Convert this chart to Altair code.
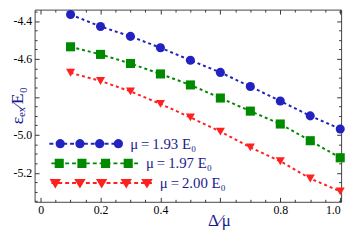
import math
import altair as alt
import pandas as pd

# ---------------- data ----------------
x_vals = [0.1, 0.2, 0.3, 0.4, 0.5, 0.6, 0.7, 0.8, 0.9, 1.0]
mu_193 = [-4.366, -4.429, -4.481, -4.541, -4.607, -4.671, -4.745, -4.822, -4.900, -4.969]
mu_197 = [-4.536, -4.576, -4.624, -4.679, -4.737, -4.806, -4.875, -4.943, -5.031, -5.121]
mu_200 = [-4.673, -4.716, -4.771, -4.837, -4.908, -4.983, -5.066, -5.139, -5.230, -5.298]

series_names = ["μ\u2009=\u20091.93 E₀", "μ\u2009=\u20091.97 E₀", "μ\u2009=\u20092.00 E₀"]
series_colors = ["#2222c0", "#008a00", "#ff2020"]
marker_shapes = ["circle", "square", "triangle-down"]
marker_sizes = [85, 85, 115]

x_major = [0, 0.2, 0.4, 0.6, 0.8, 1.0]
x_minor = [round(0.05 * i, 2) for i in range(21)]
y_major = [-5.2, -5.0, -4.8, -4.6, -4.4]
y_minor = [round(-5.35 + 0.05 * i, 2) for i in range(21)]

x_domain = [-0.02, 1.003]
y_domain = [-5.353, -4.340]

W, H = 311, 195
NAVY = "#1a1a8c"

rows = []
for name, vals in zip(series_names, [mu_193, mu_197, mu_200]):
    for xv, yv in zip(x_vals, vals):
        rows.append({"series": name, "x": xv, "y": yv})
df = pd.DataFrame(rows)

# ---------------- legend glyphs (dashed line + markers as one symbol path) ----------------
SYM_SIZE = 100                 # legend symbol size -> 5 px per path unit
UNIT = math.sqrt(SYM_SIZE) / 2
CENTER = 3.5                   # glyph origin shift inside the legend entry


def u(px):
    return (px - CENTER) / UNIT


def v(py):
    return py / UNIT


def rect(x0, y0, x1, y1):
    return (f"M{u(x0):.3f},{v(y0):.3f}L{u(x1):.3f},{v(y0):.3f}"
            f"L{u(x1):.3f},{v(y1):.3f}L{u(x0):.3f},{v(y1):.3f}Z")


def circle(cx, r, n=20):
    pts = [(cx + r * math.cos(2 * math.pi * i / n), r * math.sin(2 * math.pi * i / n))
           for i in range(n)]
    s = f"M{u(pts[0][0]):.3f},{v(pts[0][1]):.3f}"
    for p in pts[1:]:
        s += f"L{u(p[0]):.3f},{v(p[1]):.3f}"
    return s + "Z"


def tri_down(cx, a, b, c):
    return (f"M{u(cx - a):.3f},{v(-b):.3f}L{u(cx + a):.3f},{v(-b):.3f}"
            f"L{u(cx):.3f},{v(c):.3f}Z")


def glyph(kind, start, end, centers):
    parts = []
    p = start
    while p < end:
        q = min(p + 4.0, end)
        parts.append(rect(p, -1.0, q, 1.0))
        p += 7.0
    for cx in centers:
        if kind == "circle":
            parts.append(circle(cx, 4.7))
        elif kind == "square":
            parts.append(rect(cx - 4.6, -4.6, cx + 4.6, 4.6))
        else:
            parts.append(tri_down(cx, 5.8, 4.2, 5.4))
    return "".join(parts)


# glyph geometry, px from the legend's left edge
legend_paths = [
    glyph("circle", 0, 72, [11, 31, 51, 70]),
    glyph("square", 2, 91, [10, 33, 57, 80]),
    glyph("tri", 2, 106, [6, 31, 53, 78, 99]),
]
legend_label_offsets = [71, 87, 101]
legend_x = 11
legend_y = [128.5, 148.5, 168.5]

major_test = "abs(datum.value*5 - round(datum.value*5)) < 0.01"
tick_size = {"condition": {"test": major_test, "value": 4.5}, "value": 2.5}

xs = alt.Scale(domain=x_domain, nice=False, zero=False)
ys = alt.Scale(domain=y_domain, nice=False, zero=False)

x_label_expr = ("datum.value == 0 ? '0' : (abs(datum.value - 0.6) < 0.001 ? '' : "
                "format(datum.value, '.1f'))")
y_label_expr = ("abs(datum.value + 4.8) < 0.001 ? '' : "
                "replace(format(datum.value, '.1f'), '\u2212', '-')")

color_all = alt.Scale(domain=series_names, range=series_colors)

base = alt.Chart(df)

lines = base.mark_line(strokeDash=[3, 3], strokeWidth=2).encode(
    x=alt.X("x:Q", scale=xs, axis=alt.Axis(
        orient="bottom", offset=0, values=x_major, ticks=False, domain=False, grid=False,
        labelExpr=x_label_expr, labelPadding=3, title="Δ⁄μ", titleFontSize=17,
        titleX=187, titleY=19, titleAlign="center", titleBaseline="middle")),
    y=alt.Y("y:Q", scale=ys, axis=alt.Axis(
        orient="left", offset=0, values=y_major, ticks=False, domain=False, grid=False,
        labelExpr=y_label_expr, labelPadding=3, title="εₑₓ⁄E₀", titleFontSize=18,
        titleX=-17, titleY=97, titleAngle=-90, titleAlign="center",
        titleBaseline="middle")),
    color=alt.Color("series:N", scale=color_all, legend=None),
    detail="series:N",
)

points = base.mark_point(filled=True, opacity=1).encode(
    x=alt.X("x:Q", scale=xs, axis=alt.Axis(
        orient="top", offset=-H, values=x_minor, labels=False, domain=False, grid=False,
        title=None, tickSize=tick_size)),
    y=alt.Y("y:Q", scale=ys, axis=alt.Axis(
        orient="right", offset=-W, values=y_minor, labels=False, domain=False, grid=False,
        title=None, tickSize=tick_size)),
    color=alt.Color("series:N", scale=color_all, legend=None),
    shape=alt.Shape("series:N", scale=alt.Scale(domain=series_names, range=marker_shapes),
                    legend=None),
    size=alt.Size("series:N", scale=alt.Scale(domain=series_names, range=marker_sizes),
                  legend=None),
)


def legend_layer(i):
    lg = alt.Legend(
        orient="none", legendX=legend_x, legendY=legend_y[i], title=None, padding=0,
        symbolSize=SYM_SIZE, symbolStrokeWidth=0, symbolOffset=0,
        labelOffset=legend_label_offsets[i], labelFont="Liberation Serif",
        labelFontSize=15, labelColor=NAVY, labelLimit=300,
    )
    if i == 0:
        x_enc = alt.X("x:Q", scale=xs, axis=alt.Axis(
            orient="bottom", offset=-H, values=x_minor, labels=False, domain=False,
            grid=False, title=None, tickSize=tick_size))
        y_enc = alt.Y("y:Q", scale=ys, axis=alt.Axis(
            orient="left", offset=-W, values=y_minor, labels=False, domain=False,
            grid=False, title=None, tickSize=tick_size))
    else:
        x_enc = alt.X("x:Q", scale=xs, axis=None)
        y_enc = alt.Y("y:Q", scale=ys, axis=None)
    return base.transform_filter("false").mark_point(
        filled=True, size=SYM_SIZE, opacity=1).encode(
        x=x_enc, y=y_enc,
        color=alt.Color("series:N", scale=alt.Scale(domain=[series_names[i]],
                                                     range=[series_colors[i]]), legend=lg),
        shape=alt.Shape("series:N", scale=alt.Scale(domain=[series_names[i]],
                                                     range=[legend_paths[i]]), legend=lg),
    )


chart = alt.layer(
    lines, points, legend_layer(0), legend_layer(1), legend_layer(2)
).resolve_scale(
    color="independent", shape="independent"
).resolve_axis(
    x="independent", y="independent"
).properties(
    width=W, height=H,
    padding={"left": 27, "top": 0, "right": 8, "bottom": 29},
    autosize=alt.AutoSizeParams(type="none"),
).configure_axis(
    labelFont="Liberation Serif", labelFontSize=12, labelColor="black",
    titleFont="Liberation Serif", titleColor=NAVY, titleFontWeight="normal",
    tickColor="#333",
).configure_view(
    stroke="#444", strokeWidth=1,
)

chart.save("out.html", embed_options={"renderer": "svg", "actions": False})
